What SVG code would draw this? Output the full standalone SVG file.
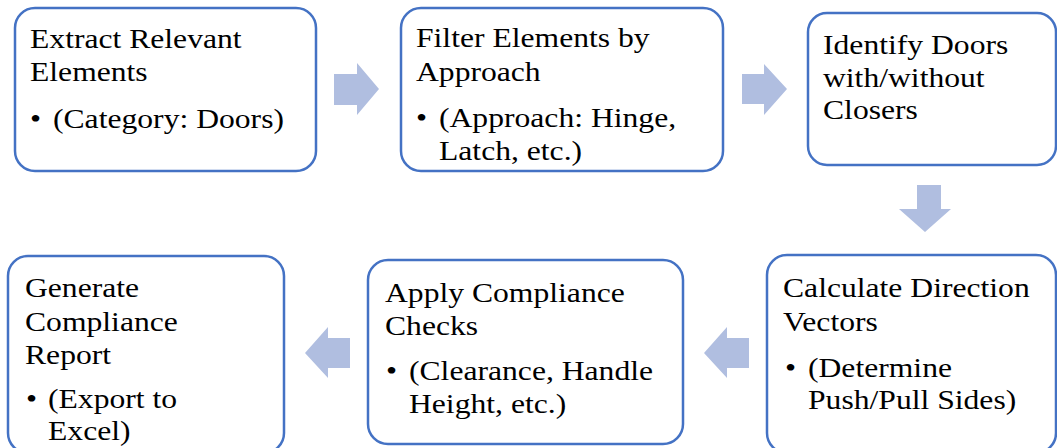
<svg xmlns="http://www.w3.org/2000/svg" width="1057" height="448" viewBox="0 0 1057 448">
  <style>
    .box { fill: #ffffff; stroke: #4472C4; stroke-width: 2.5; }
    .arrow { fill: #B0BEE0; stroke: none; }
    text { font-family: "Liberation Serif", "Times New Roman", serif; font-size: 28px; fill: #000000; }
  </style>
  <rect width="1057" height="448" fill="#ffffff"/>

  <!-- block arrows between steps -->
  <g id="connectors">
    <polygon class="arrow" points="334,74 357,74 357,63 379,89 357,115 357,105 334,105"/>
    <polygon class="arrow" points="742,74 764,74 764,64 787,89 764,115 764,104 742,104"/>
    <polygon class="arrow" points="917,185 941,185 941,209 951,209 925,232 899,209 917,209"/>
    <polygon class="arrow" points="749,338 727,338 727,327 704,353 727,378 727,368 749,368"/>
    <polygon class="arrow" points="350,338 328,338 328,327 305,353 328,378 328,368 350,368"/>
  </g>

  <g id="step-extract">
    <rect class="box" x="15" y="8" width="301" height="163" rx="20"/>
    <text transform="translate(30,48) scale(1.13 1)"><tspan x="0" y="0">Extract Relevant</tspan><tspan x="0" y="33">Elements</tspan></text>
    <text transform="translate(30,128) scale(1.13 1)">•</text>
    <text transform="translate(53,128) scale(1.13 1)">(Category: Doors)</text>
  </g>

  <g id="step-filter">
    <rect class="box" x="401" y="8" width="322" height="163" rx="20"/>
    <text transform="translate(416,47) scale(1.13 1)"><tspan x="0" y="0">Filter Elements by</tspan><tspan x="0" y="34">Approach</tspan></text>
    <text transform="translate(416,127) scale(1.13 1)">•</text>
    <text transform="translate(439,127) scale(1.13 1)"><tspan x="0" y="0">(Approach: Hinge,</tspan><tspan x="0" y="33">Latch, etc.)</tspan></text>
  </g>

  <g id="step-identify">
    <rect class="box" x="808" y="13" width="248" height="152" rx="19"/>
    <text transform="translate(823,54) scale(1.13 1)"><tspan x="0" y="0">Identify Doors</tspan><tspan x="0" y="33">with/without</tspan><tspan x="0" y="65">Closers</tspan></text>
  </g>

  <g id="step-calculate">
    <rect class="box" x="767" y="255" width="289" height="198" rx="20"/>
    <text transform="translate(783,297) scale(1.13 1)"><tspan x="0" y="0">Calculate Direction</tspan><tspan x="0" y="34">Vectors</tspan></text>
    <text transform="translate(785,377) scale(1.13 1)">•</text>
    <text transform="translate(808,377) scale(1.13 1)"><tspan x="0" y="0">(Determine</tspan><tspan x="0" y="32">Push/Pull Sides)</tspan></text>
  </g>

  <g id="step-apply">
    <rect class="box" x="368" y="260" width="315" height="184" rx="20"/>
    <text transform="translate(385,302) scale(1.13 1)"><tspan x="0" y="0">Apply Compliance</tspan><tspan x="0" y="33">Checks</tspan></text>
    <text transform="translate(386,380) scale(1.13 1)">•</text>
    <text transform="translate(409,380) scale(1.13 1)"><tspan x="0" y="0">(Clearance, Handle</tspan><tspan x="0" y="33">Height, etc.)</tspan></text>
  </g>

  <g id="step-report">
    <rect class="box" x="8" y="256" width="276" height="197" rx="20"/>
    <text transform="translate(25,297) scale(1.13 1)"><tspan x="0" y="0">Generate</tspan><tspan x="0" y="34">Compliance</tspan><tspan x="0" y="67">Report</tspan></text>
    <text transform="translate(26,408) scale(1.13 1)">•</text>
    <text transform="translate(48,408) scale(1.13 1)"><tspan x="0" y="0">(Export to</tspan><tspan x="0" y="32">Excel)</tspan></text>
  </g>
</svg>
